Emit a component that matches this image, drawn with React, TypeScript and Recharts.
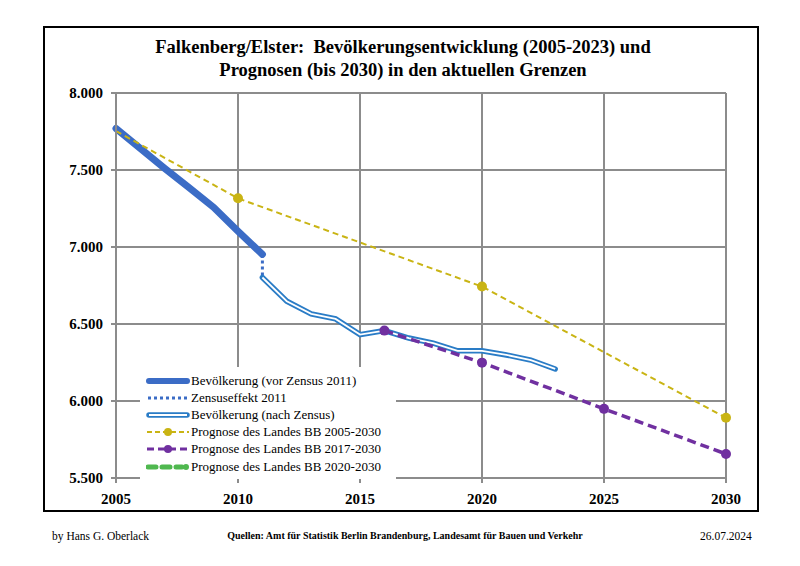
import { LineChart, Line, XAxis, YAxis, CartesianGrid, Legend } from 'recharts';

const years = [2005, 2010, 2015, 2020, 2025, 2030];
const popTicks = [5500, 6000, 6500, 7000, 7500, 8000];

// Bevölkerung vor Zensus 2011
const beforeCensusYears = [2005, 2006, 2007, 2008, 2009, 2010, 2011];
const beforeCensus = [7770, 7640, 7510, 7385, 7258, 7102, 6952];

// Zensuseffekt 2011
const censusEffect = [6952, 6802];

// Bevölkerung nach Zensus
const afterCensusYears = [2011, 2012, 2013, 2014, 2015, 2016, 2017, 2018, 2019, 2020, 2021, 2022, 2023];
const afterCensus = [6802, 6648, 6566, 6533, 6431, 6457, 6409, 6376, 6326, 6326, 6299, 6266, 6208];

// Prognose des Landes BB 2005-2030
const prog2005Years = [2005, 2010, 2020, 2030];
const prog2005 = [7753, 7316, 6743, 5891];

// Prognose des Landes BB 2017-2030
const prog2017Years = [2016, 2020, 2025, 2030];
const prog2017 = [6457, 6249, 5949, 5656];

const zip = (xs: number[], vs: number[]) => xs.map((year, i) => ({ year, v: vs[i] }));

const beforeData = zip(beforeCensusYears, beforeCensus);
const effectData = censusEffect.map((v) => ({ year: 2011, v }));
const afterData = zip(afterCensusYears, afterCensus);
const prog2005Data = zip(prog2005Years, prog2005);
const prog2017Data = zip(prog2017Years, prog2017);

const BLUE = '#3b6cc6';
const BLUE2 = '#2a7cc6';
const YELLOW = '#c9b414';
const PURPLE = '#7030a0';
const GREEN = '#4fb84f';
const GRID = '#8c8c8c';
const SERIF = '"Liberation Serif", "DejaVu Serif", serif';

const fmt = (v: number) => {
  const s = String(v);
  return s.length > 3 ? s.slice(0, s.length - 3) + '.' + s.slice(-3) : s;
};

const legendItems = [
  { name: 'Bevölkerung (vor Zensus 2011)', kind: 'thick' },
  { name: 'Zensuseffekt 2011', kind: 'dotted' },
  { name: 'Bevölkerung (nach Zensus)', kind: 'double' },
  { name: 'Prognose des Landes BB 2005-2030', kind: 'yellow' },
  { name: 'Prognose des Landes BB 2017-2030', kind: 'purple' },
  { name: 'Prognose des Landes BB 2020-2030', kind: 'green' },
];

function LegendIcon({ kind }: { kind: string }) {
  return (
    <svg width={44} height={12} style={{ display: 'block' }}>
      {kind === 'thick' && <line x1={3} y1={6} x2={41} y2={6} stroke={BLUE} strokeWidth={6} strokeLinecap="round" />}
      {kind === 'dotted' && <line x1={2} y1={6} x2={42} y2={6} stroke={BLUE} strokeWidth={3} strokeDasharray="3 3" />}
      {kind === 'double' && (
        <>
          <line x1={3} y1={6} x2={41} y2={6} stroke={BLUE2} strokeWidth={5.5} strokeLinecap="round" />
          <line x1={3} y1={6} x2={41} y2={6} stroke="#fff" strokeWidth={1.8} />
        </>
      )}
      {kind === 'yellow' && (
        <>
          <line x1={1} y1={6} x2={43} y2={6} stroke={YELLOW} strokeWidth={2} strokeDasharray="5 3" />
          <circle cx={22} cy={6} r={4} fill={YELLOW} />
        </>
      )}
      {kind === 'purple' && (
        <>
          <line x1={1} y1={6} x2={43} y2={6} stroke={PURPLE} strokeWidth={3} strokeDasharray="7 4" />
          <circle cx={22} cy={6} r={4} fill={PURPLE} />
        </>
      )}
      {kind === 'green' && (
        <>
          <line x1={2} y1={6} x2={36} y2={6} stroke={GREEN} strokeWidth={5} strokeDasharray="8 6" strokeLinecap="round" />
          <circle cx={40} cy={6} r={3} fill={GREEN} />
        </>
      )}
    </svg>
  );
}

function renderLegend() {
  return (
    <div style={{ background: '#fff', padding: '5px 4px 4px 6px', fontFamily: SERIF, fontSize: 13, color: '#000' }}>
      {legendItems.map((it) => (
        <div key={it.name} style={{ display: 'flex', alignItems: 'center', height: 17.2 }}>
          <LegendIcon kind={it.kind} />
          <span style={{ marginLeft: 1, whiteSpace: 'nowrap' }}>{it.name}</span>
        </div>
      ))}
    </div>
  );
}

const dotAt = (color: string, skip: number[]) => (props: any) => {
  const { cx, cy, payload, index } = props;
  if (skip.includes(payload.year)) return <g key={`d${index}`} />;
  return <circle key={`d${index}`} cx={cx} cy={cy} r={5} fill={color} stroke="none" />;
};

export default function App() {
  return (
    <div style={{ position: 'absolute', left: 0, top: 0, width: 800, height: 566, background: '#fff' }}>
      <div style={{ position: 'absolute', left: 43, top: 26, width: 712, height: 482, border: '2px solid #000' }} />
      <div
        style={{
          position: 'absolute',
          left: 0,
          top: 36,
          width: 806,
          textAlign: 'center',
          fontFamily: SERIF,
          fontWeight: 'bold',
          fontSize: 18.5,
          lineHeight: '23px',
        }}
      >
        Falkenberg/Elster:&nbsp; Bevölkerungsentwicklung (2005-2023) und
        <br />
        Prognosen (bis 2030) in den aktuellen Grenzen
      </div>
      <div style={{ position: 'absolute', left: 0, top: 0 }}>
        <LineChart width={800} height={566} margin={{ top: 93, right: 74, bottom: 58, left: 56 }}>
          <CartesianGrid stroke={GRID} strokeWidth={2} />
          <XAxis
            dataKey="year"
            type="number"
            domain={[2005, 2030]}
            ticks={years}
            height={30}
            stroke={GRID}
            strokeWidth={2}
            tickSize={5}
            tickMargin={10}
            tick={{ fill: '#000', fontFamily: SERIF, fontWeight: 'bold', fontSize: 15 }}
            allowDuplicatedCategory={false}
          />
          <YAxis
            type="number"
            domain={[5500, 8000]}
            ticks={popTicks}
            width={60}
            stroke={GRID}
            strokeWidth={2}
            tickSize={5}
            tickMargin={8}
            tickFormatter={fmt}
            tick={{ fill: '#000', fontFamily: SERIF, fontWeight: 'bold', fontSize: 15 }}
          />
          <Legend
            layout="vertical"
            align="center"
            verticalAlign="middle"
            content={renderLegend}
            wrapperStyle={{ left: 140, top: 367, width: 256, height: 105 }}
          />
          <Line data={beforeData} dataKey="v" stroke={BLUE} strokeWidth={7} dot={false} strokeLinecap="round" isAnimationActive={false} />
          <Line data={effectData} dataKey="v" stroke={BLUE} strokeWidth={3} strokeDasharray="3 3" dot={false} isAnimationActive={false} />
          <Line data={afterData} dataKey="v" stroke={BLUE2} strokeWidth={5.5} dot={false} strokeLinecap="round" isAnimationActive={false} />
          <Line data={afterData} dataKey="v" stroke="#fff" strokeWidth={1.8} dot={false} isAnimationActive={false} />
          <Line data={prog2005Data} dataKey="v" stroke={YELLOW} strokeWidth={2} strokeDasharray="6 4" dot={dotAt(YELLOW, [2005])} isAnimationActive={false} />
          <Line data={prog2017Data} dataKey="v" stroke={PURPLE} strokeWidth={3.5} strokeDasharray="9 5" dot={dotAt(PURPLE, [])} isAnimationActive={false} />
        </LineChart>
      </div>
      <div style={{ position: 'absolute', left: 52, top: 530, fontFamily: SERIF, fontSize: 11.5 }}>by Hans G. Oberlack</div>
      <div style={{ position: 'absolute', left: 0, width: 810, top: 530, textAlign: 'center', fontFamily: SERIF, fontSize: 10, fontWeight: 'bold' }}>
        Quellen: Amt für Statistik Berlin Brandenburg, Landesamt für Bauen und Verkehr
      </div>
      <div style={{ position: 'absolute', left: 700, top: 530, fontFamily: SERIF, fontSize: 11.5 }}>26.07.2024</div>
    </div>
  );
}
